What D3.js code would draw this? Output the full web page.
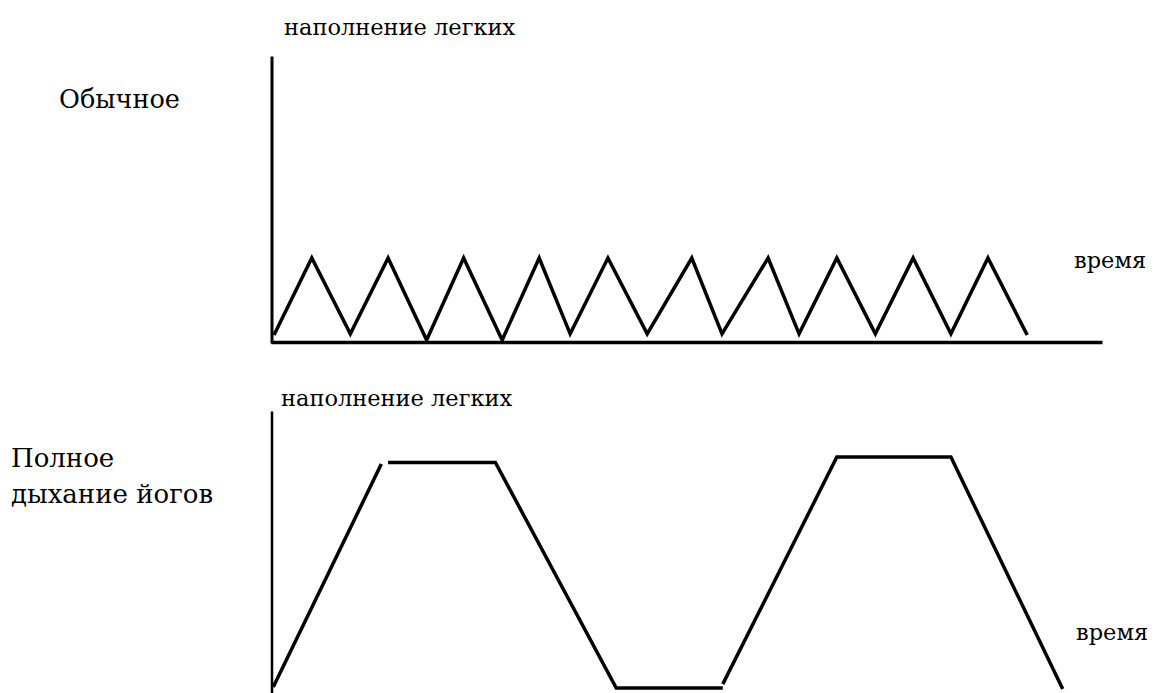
<!DOCTYPE html>
<html>
<head>
<meta charset="utf-8">
<script src="https://cdn.jsdelivr.net/npm/d3@7"></script>
<style>
  body { margin: 0; background: #fff; }
</style>
</head>
<body>
<script>
// обычное дыхание: время / наполнение (частые мелкие вдохи)
const topTime = [0.4, 5.4, 10.5, 15.5, 20.6, 25.5, 30.6, 35.5, 39.6, 44.6, 49.8, 55.7, 59.7, 65.8, 69.9, 74.9, 80.0, 85.0, 90.0, 94.9, 100.1]
const topFill = [2.5, 30, 2.9, 30, 0.7, 30, 0.7, 30, 2.9, 30, 2.9, 30, 2.9, 30, 2.9, 30, 2.9, 30, 2.9, 30, 2.5]

// полное дыхание йогов, три отрезка
const yogaTime1 = [0.3, 14.6]
const yogaFill1 = [1.8, 81.1]
const yogaTime2 = [15.5, 29.7, 45.7, 59.8]
const yogaFill2 = [81.7, 81.7, 1.4, 1.4]
const yogaTime3 = [59.8, 74.9, 90.0, 104.8]
const yogaFill3 = [2.8, 83.6, 83.6, 1.1]

const axisTitle = "наполнение легких"
const timeTitle = "время"
const topName = ["Обычное"]
const bottomName = ["Полное", "дыхание йогов"]

const w = 1154
const h = 693
const font = "'DejaVu Serif', 'Liberation Serif', serif"

const svg = d3.select("body").append("svg").attr("width", w).attr("height", h)

const x = d3.scaleLinear().domain([0, 110]).range([271, 1102])
const yTop = d3.scaleLinear().domain([0, 100]).range([342, 62])
const yBot = d3.scaleLinear().domain([0, 100]).range([692, 411])

// оси без делений
svg.append("g").attr("transform", "translate(" + (x(0) + 0.5) + ",0)")
  .call(d3.axisLeft(yTop.copy().range([343, 56])).tickValues([]).tickSizeOuter(0))
  .select(".domain").attr("stroke", "#000").attr("stroke-width", 3)
svg.append("g").attr("transform", "translate(0," + yTop(0) + ")")
  .call(d3.axisBottom(x).tickValues([]).tickSizeOuter(0))
  .select(".domain").attr("stroke", "#000").attr("stroke-width", 3.5)
svg.append("g").attr("transform", "translate(" + (x(0) + 0.5) + ",0)")
  .call(d3.axisLeft(yBot.copy().range([693, 411])).tickValues([]).tickSizeOuter(0))
  .select(".domain").attr("stroke", "#000").attr("stroke-width", 2.5)

const lineTop = d3.line().x(d => x(d[0])).y(d => yTop(d[1]))
const lineBot = d3.line().x(d => x(d[0])).y(d => yBot(d[1]))

svg.append("path")
  .datum(d3.zip(topTime, topFill))
  .attr("d", lineTop)
  .attr("fill", "none").attr("stroke", "#000").attr("stroke-width", 3.5)
  .attr("stroke-linejoin", "miter")

svg.selectAll(".yoga")
  .data([d3.zip(yogaTime1, yogaFill1), d3.zip(yogaTime2, yogaFill2), d3.zip(yogaTime3, yogaFill3)])
  .enter().append("path")
  .attr("class", "yoga")
  .attr("d", lineBot)
  .attr("fill", "none").attr("stroke", "#000").attr("stroke-width", 3.5)
  .attr("stroke-linejoin", "miter")

// подписи
const label = (x0, y0, size, s) => svg.append("text")
  .attr("x", x0).attr("y", y0)
  .attr("font-family", font).attr("font-size", size).attr("fill", "#000")
  .text(s)

label(284, 35, 22.5, axisTitle)
label(281, 406, 22.5, axisTitle)
label(1074, 268, 22.5, timeTitle)
label(1076, 640, 22.5, timeTitle)
label(59, 108, 25.5, topName[0])
bottomName.forEach((s, i) => label(11, 467 + i * 36, 26, s))
</script>
</body>
</html>
